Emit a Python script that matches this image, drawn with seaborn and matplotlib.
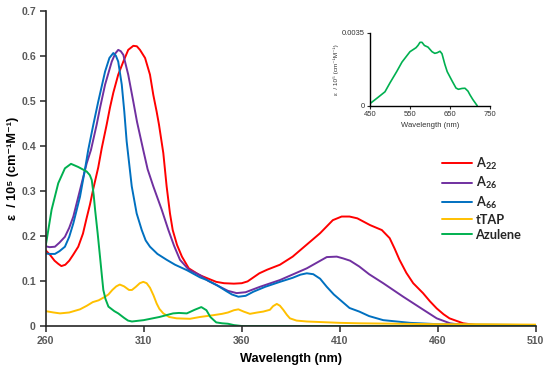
import numpy as np
import pandas as pd
import matplotlib
matplotlib.use("Agg")
import matplotlib.pyplot as plt
import seaborn as sns

# ---------------- data ----------------
a22_wl = [260, 262.2, 264.5, 266.4, 268, 270, 272, 274, 276.6, 279, 280.9, 282.6, 284.3, 286.8, 288.6,
          291.1, 292.8, 294.5, 297, 299.6, 302.1, 304.7, 306.5, 308.1, 310.7, 313.2, 314.9, 316.6,
          317.8, 320, 321.7, 323.4, 324.8, 327, 329.5, 333, 338.5, 343, 347, 351, 356, 360, 363, 369,
          373, 379.5, 386, 393, 400, 406.5, 411, 415, 419, 425.5, 431.5, 435.5, 438, 440.5, 444,
          447.5, 452.5, 456, 459.5, 463, 466, 473, 480, 490, 510]
a22_val = [0.168, 0.158, 0.145, 0.138, 0.133, 0.136, 0.145, 0.158, 0.176, 0.205, 0.24, 0.27, 0.305,
           0.352, 0.395, 0.447, 0.485, 0.518, 0.558, 0.587, 0.613, 0.622, 0.621, 0.613, 0.595, 0.558,
           0.513, 0.476, 0.447, 0.384, 0.31, 0.25, 0.213, 0.18, 0.154, 0.128, 0.113, 0.105, 0.098,
           0.095, 0.094, 0.095, 0.099, 0.117, 0.125, 0.136, 0.154, 0.18, 0.206, 0.235, 0.243, 0.243,
           0.239, 0.224, 0.213, 0.195, 0.172, 0.147, 0.118, 0.095, 0.073, 0.055, 0.039, 0.026, 0.017,
           0.006, 0.002, 0.001, 0.001]

a26_wl = [260, 262, 264.7, 267, 269.8, 272, 274.1, 277.5, 280.9, 283.1, 286, 287.7, 290.3, 293.7,
          295.5, 297, 298.3, 299.6, 302.1, 304.7, 306.6, 309.8, 312, 314.9, 319.2, 322.6, 325.5, 328.5,
          333, 338.7, 343, 348.9, 353, 357.4, 362, 369.3, 379.5, 393.2, 403.4, 408.5, 411.8, 415.3,
          420, 425, 432.2, 442.4, 452.7, 459.5, 466.3, 473, 490, 510]
a26_val = [0.177, 0.175, 0.176, 0.185, 0.198, 0.218, 0.243, 0.302, 0.361, 0.391, 0.447, 0.484, 0.536,
           0.587, 0.605, 0.613, 0.61, 0.602, 0.558, 0.498, 0.453, 0.39, 0.348, 0.31, 0.258, 0.213,
           0.178, 0.147, 0.125, 0.113, 0.1, 0.087, 0.078, 0.073, 0.075, 0.087, 0.102, 0.128, 0.153,
           0.154, 0.15, 0.145, 0.132, 0.115, 0.095, 0.065, 0.036, 0.017, 0.006, 0.002, 0.001, 0.001]

a66_wl = [260, 262, 264.7, 267, 269.8, 272, 274.1, 277.5, 280, 281.7, 284.3, 286.8, 290.3, 292.5,
          294.5, 295.8, 297, 298.8, 300.1, 301.3, 303.9, 306.4, 309, 311, 313.2, 317, 321.7, 326, 332,
          338.7, 342.2, 347.2, 352.3, 355, 358.3, 362, 365.9, 372, 379.5, 386, 390, 393.2, 396.5, 400,
          403.4, 407, 410.2, 415, 420, 425, 432.2, 445.9, 460, 480, 510]
a66_val = [0.161, 0.16, 0.16, 0.166, 0.176, 0.198, 0.228, 0.287, 0.347, 0.391, 0.447, 0.498, 0.565,
           0.595, 0.606, 0.6, 0.587, 0.536, 0.476, 0.41, 0.31, 0.25, 0.213, 0.19, 0.176, 0.16, 0.147,
           0.136, 0.124, 0.108, 0.102, 0.091, 0.077, 0.07, 0.065, 0.067, 0.076, 0.087, 0.098, 0.107,
           0.114, 0.117, 0.115, 0.105, 0.087, 0.07, 0.058, 0.04, 0.032, 0.022, 0.013, 0.007, 0.004,
           0.003, 0.002]

ttap_wl = [260, 264, 267.3, 272, 277.5, 281, 284, 287, 290.3, 292, 294, 296, 297.8, 300, 302.5, 304,
           306, 308, 309.8, 311.5, 313.2, 315, 316.6, 318, 320, 323, 326.8, 333.6, 338.7, 345.5, 350,
           353, 356, 358.3, 361, 364.2, 368, 371, 374.4, 376, 377.9, 379.5, 381.2, 383, 384.6, 388,
           393.2, 410, 420, 440, 460, 480, 510]
ttap_val = [0.033, 0.03, 0.028, 0.03, 0.037, 0.045, 0.053, 0.057, 0.065, 0.07, 0.08, 0.088, 0.092,
            0.088, 0.08, 0.08, 0.087, 0.095, 0.098, 0.095, 0.085, 0.068, 0.05, 0.038, 0.028, 0.02,
            0.017, 0.016, 0.02, 0.024, 0.027, 0.03, 0.035, 0.037, 0.032, 0.027, 0.03, 0.032, 0.036,
            0.044, 0.049, 0.045, 0.036, 0.025, 0.017, 0.012, 0.01, 0.007, 0.006, 0.005, 0.004, 0.004,
            0.003]

azu_wl = [260, 260.5, 263, 266.4, 269.8, 272.9, 276.6, 280.9, 282.5, 283.5, 284.5, 285.2, 286.5,
          287.7, 288.7, 289.4, 290.5, 292, 295, 297, 300, 302, 304, 310, 318, 325, 328, 332, 336,
          339.4, 342, 344, 347, 350, 353, 356, 360, 400, 510]
azu_val = [0.178, 0.191, 0.258, 0.317, 0.35, 0.36, 0.353, 0.343, 0.335, 0.324, 0.29, 0.258, 0.206,
           0.154, 0.11, 0.08, 0.06, 0.043, 0.033, 0.028, 0.018, 0.012, 0.01, 0.013, 0.02, 0.028,
           0.029, 0.028, 0.036, 0.042, 0.035, 0.02, 0.008, 0.006, 0.005, 0.002, 0.0, 0.0, 0.0]

inset_wl = [450, 470, 487.5, 500, 516.7, 530, 550, 565, 570, 575, 580, 586, 595, 605, 612, 618, 625,
            630, 637, 643, 655, 665, 671, 680, 687.5, 695, 700, 707, 712.5, 718]
inset_val = [0.0001, 0.0004, 0.00067, 0.0011, 0.00164, 0.0021, 0.0026, 0.00279, 0.0029, 0.00305,
             0.00305, 0.0029, 0.00282, 0.0026, 0.00252, 0.00255, 0.00262, 0.0025, 0.002, 0.00164,
             0.0012, 0.00085, 0.00079, 0.00083, 0.00084, 0.0007, 0.00052, 0.0003, 0.00015, 0.0]

series_names = ["A22", "A26", "A66", "tTAP", "Azulene"]
legend_labels = [r"$\mathbf{A}_{\mathbf{22}}$", r"$\mathbf{A}_{\mathbf{26}}$",
                 r"$\mathbf{A}_{\mathbf{66}}$", "tTAP", "Azulene"]
colors = ["#FF0000", "#7030A0", "#0070C0", "#FFC000", "#00B050"]
x_ticks = [260, 310, 360, 410, 460, 510]
y_ticks = [0, 0.1, 0.2, 0.3, 0.4, 0.5, 0.6, 0.7]
inset_xticks = [450, 550, 650, 750]
inset_yticks = [0, 0.0035]

# ---------------- style ----------------
sns.set_style("ticks")
plt.rcParams['font.family'] = ['Liberation Sans', 'DejaVu Sans']
plt.rcParams['mathtext.fontset'] = 'custom'
plt.rcParams['mathtext.rm'] = 'Lato'
plt.rcParams['mathtext.bf'] = 'Lato:bold'

frames = []
for name, wl, val in zip(series_names,
                         [a22_wl, a26_wl, a66_wl, ttap_wl, azu_wl],
                         [a22_val, a26_val, a66_val, ttap_val, azu_val]):
    frames.append(pd.DataFrame({"wl": wl, "eps": val, "series": name}))
df = pd.concat(frames, ignore_index=True)

fig = plt.figure(figsize=(5.5, 3.71), dpi=100)
ax = fig.add_axes([0.0831, 0.1213, 0.8909, 0.8499])

sns.lineplot(data=df, x="wl", y="eps", hue="series", hue_order=series_names,
             palette=colors, estimator=None, sort=True, linewidth=1.4, ax=ax)
for ln in ax.get_lines():
    ln.set_solid_joinstyle("round")

ax.set_xlim(260, 510)
ax.set_ylim(0, 0.7)
ax.set_xticks(x_ticks)
ax.set_xticklabels([str(t) for t in x_ticks])
ax.set_yticks(y_ticks)
ax.set_yticklabels(["0"] + [f"{t:.1f}" for t in y_ticks[1:]])
for sp in ["top", "right"]:
    ax.spines[sp].set_visible(False)
for sp in ["left", "bottom"]:
    ax.spines[sp].set_color("#262626")
    ax.spines[sp].set_linewidth(1.2)
ax.tick_params(axis="both", direction="out", length=4, width=1.1, color="#262626",
               labelsize=7.6, labelcolor="#595959", pad=3)
for lab in ax.get_xticklabels() + ax.get_yticklabels():
    lab.set_fontweight("bold")

ax.set_xlabel("Wavelength (nm)", fontsize=9.2, fontweight="bold", color="black")
ax.xaxis.set_label_coords(0.5, -0.105)
ax.xaxis.label.set_va("center")
ax.set_ylabel("ε  / 10⁵ (cm⁻¹M⁻¹)", fontsize=9.2, fontweight="bold", color="black")
ax.yaxis.set_label_coords(-0.067, 0.5)
ax.yaxis.label.set_va("center")

handles, _ = ax.get_legend_handles_labels()
leg = ax.legend(handles, legend_labels, loc="upper left", bbox_to_anchor=(0.803, 0.58),
                bbox_transform=fig.transFigure, frameon=False,
                handlelength=2.4, handletextpad=0.25, labelspacing=0.25,
                borderpad=0, borderaxespad=0, prop={"family": "Lato", "weight": "bold", "size": 9.2})

# ---------------- inset ----------------
ins = fig.add_axes([0.6727, 0.7151, 0.2182, 0.196])
inset_df = pd.DataFrame({"wl": inset_wl, "eps": inset_val})
sns.lineplot(data=inset_df, x="wl", y="eps", color="#00B050", linewidth=1.2, ax=ins)
for ln in ins.get_lines():
    ln.set_solid_joinstyle("round")
ins.set_xlim(450, 750)
ins.set_ylim(0, 0.0035)
ins.set_xticks(inset_xticks)
ins.set_xticklabels([str(t) for t in inset_xticks])
ins.set_yticks(inset_yticks)
ins.set_yticklabels(["0", "0.0035"])
for sp in ["top", "right"]:
    ins.spines[sp].set_visible(False)
for sp in ["left", "bottom"]:
    ins.spines[sp].set_color("black")
    ins.spines[sp].set_linewidth(1.0)
ins.tick_params(axis="both", direction="out", length=2.5, width=0.8, labelsize=5.5,
                labelcolor="#333333", pad=1.5)
ins.set_xlabel("Wavelength (nm)", fontsize=5.5, color="#333333", labelpad=3)
ins.set_ylabel("ε  / 10⁵ (cm⁻¹M⁻¹)", fontsize=4.6, color="#333333", labelpad=2)

fig.savefig("out.png", dpi=100)
